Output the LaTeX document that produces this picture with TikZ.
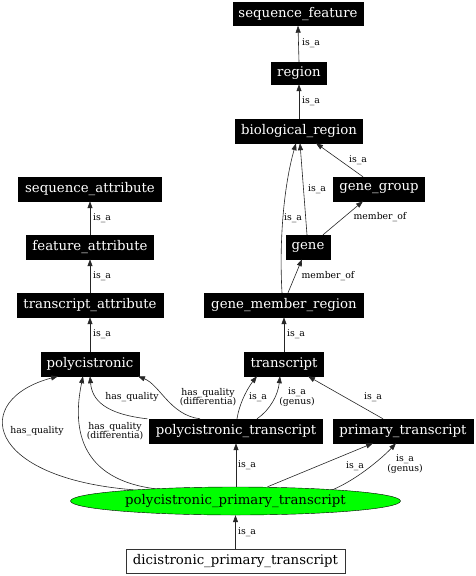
\documentclass[tikz,border=0pt]{standalone}
\usepackage{fontspec}
\setmainfont{DejaVu Serif}
\usetikzlibrary{arrows.meta,shapes.geometric}
\begin{document}
\begin{tikzpicture}[x=1pt,y=-1pt,
 term/.style={fill=black,draw=black,text=white,inner sep=0pt,minimum height=24pt,font=\fontsize{13.3}{15}\selectfont},
 edge/.style={draw=black!85,line width=0.6pt,-{Triangle[length=7pt,width=5pt]}},
 lbl/.style={font=\fontsize{9.3}{9.5}\selectfont,align=center,inner sep=0pt}]
\useasboundingbox (0,0) rectangle (476,576);
% nodes
\node[term,minimum width=130pt,minimum height=23pt] (sf) at (298,14) {sequence\_feature};
\node[term,minimum width=55pt,minimum height=22pt] (rg) at (299,73) {region};
\node[term,minimum width=127pt] (br) at (299,131) {biological\_region};
\node[term,minimum width=91pt] (gg) at (379,189) {gene\_group};
\node[term,minimum width=44pt] (gn) at (308,247) {gene};
\node[term,minimum width=159pt] (gmr) at (284,305) {gene\_member\_region};
\node[term,minimum width=79pt] (tr) at (284,364) {transcript};
\node[term,minimum width=173pt] (pt) at (236,431) {polycistronic\_transcript};
\node[term,minimum width=140pt] (prt) at (403,431) {primary\_transcript};
\node[term,minimum width=98pt] (poly) at (90,364) {polycistronic};
\node[term,minimum width=143pt] (sa) at (90,189) {sequence\_attribute};
\node[term,minimum width=127pt] (fa) at (90,247) {feature\_attribute};
\node[term,minimum width=146pt] (ta) at (90,305) {transcript\_attribute};
\node[ellipse,fill={rgb,255:red,0;green,255;blue,0},draw=black,inner sep=0pt,minimum width=330pt,minimum height=28pt,font=\fontsize{13.3}{15}\selectfont] (ppt) at (235.5,501) {polycistronic\_primary\_transcript};
\node[draw=black!80,fill=white,inner sep=0pt,minimum width=219pt,minimum height=24pt,font=\fontsize{13.3}{15}\selectfont] (dpt) at (235.5,561) {dicistronic\_primary\_transcript};
% edges
\draw[edge] (rg.north) -- (sf.south);
\draw[edge] (br.north) -- (rg.south);
\draw[edge] ([xshift=-16pt]gg.north) -- ([xshift=17pt]br.south);
\draw[edge] ([xshift=-1pt]gn.north) -- ([xshift=1pt]br.south);
\draw[edge] ([xshift=-2pt]gmr.north) .. controls (279,240) and (284,185) .. ([xshift=-3pt]br.south);
\draw[edge] ([xshift=15pt]gn.north) -- ([xshift=-16pt]gg.south);
\draw[edge] ([xshift=4pt]gmr.north) -- ([xshift=-6pt]gn.south);
\draw[edge] (tr.north) -- (gmr.south);
\draw[edge] ([xshift=1pt]pt.north) .. controls (240,400) and (250,385) .. ([xshift=-27pt]tr.south);
\draw[edge] ([xshift=21pt]pt.north) .. controls (270,410) and (278,395) .. ([xshift=-4pt]tr.south);
\draw[edge] ([xshift=-20pt]prt.north) -- ([xshift=24pt]tr.south);
\draw[edge] ([xshift=-36pt]pt.north) .. controls (170,415) and (160,385) .. ([xshift=48pt]poly.south);
\draw[edge] ([xshift=-2pt]pt.north west) .. controls (105,414) and (92,400) .. (poly.south);
\draw[edge] ([xshift=-102pt,yshift=-3pt]ppt.north) .. controls (-15,478) and (-30,400) .. ([xshift=-32pt]poly.south);
\draw[edge] ([xshift=-80pt,yshift=-2pt]ppt.north) .. controls (70,478) and (75,415) .. ([xshift=-7pt]poly.south);
\draw[edge] ([xshift=0.5pt]ppt.north) -- (pt.south);
\draw[edge] ([xshift=32pt]ppt.north) -- ([xshift=-30pt]prt.south);
\draw[edge] ([xshift=97pt,yshift=-3pt]ppt.north) .. controls (360,478) and (385,455) .. ([xshift=-7pt]prt.south);
\draw[edge] (dpt.north) -- (ppt.south);
\draw[edge] (poly.north) -- (ta.south);
\draw[edge] (ta.north) -- (fa.south);
\draw[edge] (fa.north) -- (sa.south);
% labels
\node[lbl] (l1) at (311,43) {is\_a};
\node[lbl] (l2) at (311,101) {is\_a};
\node[lbl] (l3) at (358,160) {is\_a};
\node[lbl] (l4) at (317,189) {is\_a};
\node[lbl] (l5) at (293,218) {is\_a};
\node[lbl] (l6) at (380,217) {member\_of};
\node[lbl] (l7) at (328,276) {member\_of};
\node[lbl] (l8) at (296,334) {is\_a};
\node[lbl] (l9) at (258,397) {is\_a};
\node[lbl] (l10) at (297,397) {is\_a\\(genus)};
\node[lbl] (l11) at (373,397) {is\_a};
\node[lbl] (l12) at (208,397) {has\_quality\\(differentia)};
\node[lbl] (l13) at (132,397) {has\_quality};
\node[lbl] (l14) at (37,431) {has\_quality};
\node[lbl] (l15) at (115,431) {has\_quality\\(differentia)};
\node[lbl] (l16) at (247,465) {is\_a};
\node[lbl] (l17) at (355,466) {is\_a};
\node[lbl] (l18) at (405,464) {is\_a\\(genus)};
\node[lbl] (l19) at (247,532) {is\_a};
\node[lbl] (l20) at (102,334) {is\_a};
\node[lbl] (l21) at (102,276) {is\_a};
\node[lbl] (l22) at (102,218) {is\_a};
\end{tikzpicture}
\end{document}
